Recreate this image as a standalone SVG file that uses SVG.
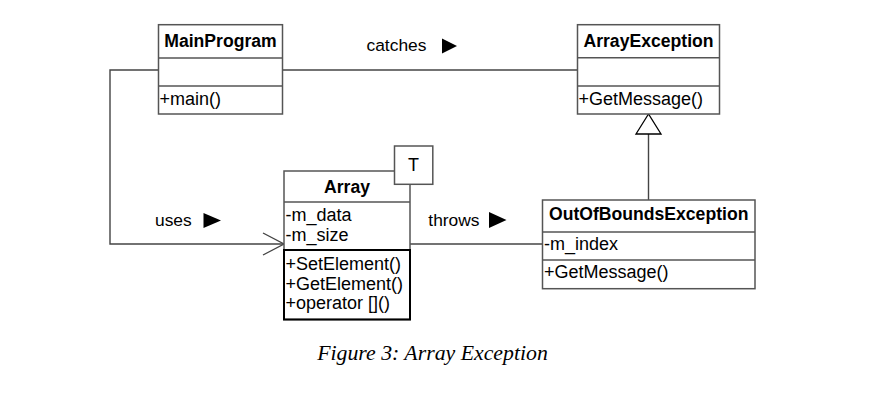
<svg xmlns="http://www.w3.org/2000/svg" width="879" height="416" viewBox="0 0 879 416">
<style>
.box{fill:#fff;stroke:#555;stroke-width:1.5}
.sep{stroke:#555;stroke-width:1.5}
.thick{fill:none;stroke:#000;stroke-width:2}
.t{font-family:"Liberation Sans",Arial,sans-serif;font-size:18px;fill:#000}
.b{font-family:"Liberation Sans",Arial,sans-serif;font-size:17.6px;font-weight:bold;fill:#000}
.lbl{font-family:"Liberation Sans",Arial,sans-serif;font-size:17.4px;fill:#000}
.con{fill:none;stroke:#444;stroke-width:1.4}
.cap{font-family:"Liberation Serif","Times New Roman",serif;font-size:21.8px;font-style:italic;fill:#000}
</style>
<rect width="879" height="416" fill="#fff"/>
<g id="connectors">
  <polyline class="con" points="158,70 110,70 110,244 284,244"/>
  <polyline class="con" points="263,233 284,244 263,255"/>
  <line class="con" x1="283" y1="70" x2="577" y2="70"/>
  <line class="con" x1="410" y1="244" x2="542" y2="244"/>
  <line class="con" x1="648.5" y1="200" x2="648.5" y2="134"/>
  <polygon points="648.5,114 636,134 661,134" fill="#fff" stroke="#000" stroke-width="1.3"/>
  <text class="lbl" x="366.5" y="50.7">catches</text>
  <polygon points="442,38.5 442,53.5 457,46" fill="#000"/>
  <text class="lbl" x="155" y="225.7">uses</text>
  <polygon points="203.5,213 203.5,228 221,220.5" fill="#000"/>
  <text class="lbl" x="428.3" y="225.7">throws</text>
  <polygon points="489,212 489,228 506.5,220" fill="#000"/>
</g>
<g id="MainProgram">
  <rect class="box" x="158.5" y="24.7" width="124" height="89.3"/>
  <line class="sep" x1="158.5" y1="58" x2="282.5" y2="58"/>
  <line class="sep" x1="158.5" y1="86" x2="282.5" y2="86"/>
  <text class="b" x="220.5" y="46.7" text-anchor="middle">MainProgram</text>
  <text class="t" x="159.5" y="105">+main()</text>
</g>
<g id="ArrayException">
  <rect class="box" x="577.5" y="24.7" width="142" height="89.3"/>
  <line class="sep" x1="577.5" y1="57.7" x2="719.5" y2="57.7"/>
  <line class="sep" x1="577.5" y1="86" x2="719.5" y2="86"/>
  <text class="b" x="648.5" y="46.7" text-anchor="middle">ArrayException</text>
  <text class="t" x="578.5" y="105">+GetMessage()</text>
</g>
<g id="Array">
  <rect class="box" x="284" y="171" width="126" height="148.5"/>
  <line class="sep" x1="284" y1="202" x2="410" y2="202"/>
  <rect class="thick" x="284" y="250" width="126" height="69.5"/>
  <rect class="box" x="394.5" y="146" width="38.3" height="38.3"/>
  <text class="t" x="413.6" y="171" text-anchor="middle">T</text>
  <text class="b" x="347" y="192.7" text-anchor="middle">Array</text>
  <text class="t" x="285.5" y="221">-m_data</text>
  <text class="t" x="285.5" y="240.7">-m_size</text>
  <text class="t" x="285.5" y="270">+SetElement()</text>
  <text class="t" x="285.5" y="289.5">+GetElement()</text>
  <text class="t" x="285.5" y="309.3">+operator []()</text>
</g>
<g id="OutOfBoundsException">
  <rect class="box" x="542.5" y="200" width="212.5" height="88.7"/>
  <line class="sep" x1="542.5" y1="232" x2="755" y2="232"/>
  <line class="sep" x1="542.5" y1="260" x2="755" y2="260"/>
  <text class="b" x="648.7" y="220" text-anchor="middle">OutOfBoundsException</text>
  <text class="t" x="544" y="250">-m_index</text>
  <text class="t" x="544" y="278.3">+GetMessage()</text>
</g>
<text class="cap" x="432.5" y="360" text-anchor="middle">Figure 3: Array Exception</text>
</svg>
